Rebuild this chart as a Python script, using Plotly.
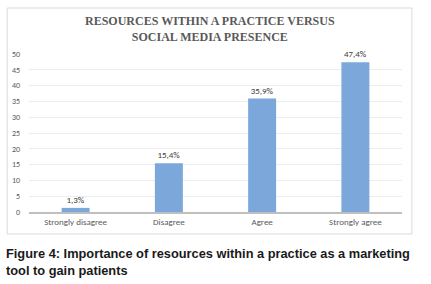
import plotly.graph_objects as go

categories = ["Strongly disagree", "Disagree", "Agree", "Strongly agree"]
values = [1.3, 15.4, 35.9, 47.4]
labels = ["1,3%", "15,4%", "35,9%", "47,4%"]
y_ticks = [0, 5, 10, 15, 20, 25, 30, 35, 40, 45, 50]

W, H = 431, 284
L, R, T, B = 26, 29, 54, 72
pw, ph = W - L - R, H - T - B

def px(x):
    return (x - L) / pw

def py(y):
    return (H - B - y) / ph

fig = go.Figure(go.Bar(
    x=categories, y=values, text=labels, textposition="outside",
    textfont=dict(family="Carlito, Calibri, Liberation Sans, Arial", size=9, color="#404040"),
    marker=dict(color="#7BA7DB", line=dict(width=0)),
    cliponaxis=False,
))

fig.update_layout(
    width=W, height=H,
    margin=dict(l=L, r=R, t=T, b=B),
    paper_bgcolor="white", plot_bgcolor="white",
    bargap=0.7, showlegend=False,
    font=dict(family="Carlito, Liberation Sans, Arial", size=9, color="#595959"),
    xaxis=dict(showgrid=False, showline=True, linecolor="#BFBFBF", linewidth=1.5,
               ticks="", tickfont=dict(size=9, color="#595959"), fixedrange=True),
    yaxis=dict(range=[0, 50], tickvals=y_ticks, showgrid=True, gridcolor="#EDEDED",
               gridwidth=1, zeroline=False, showline=False, ticks="",
               tickfont=dict(size=8, color="#595959"), ticklabelstandoff=8, fixedrange=True),
    shapes=[dict(type="rect", xref="paper", yref="paper",
                 x0=px(4), x1=px(412), y0=py(234), y1=py(8),
                 line=dict(color="#D9D9D9", width=1), fillcolor="rgba(0,0,0,0)")],
    annotations=[
        dict(text="<b>RESOURCES WITHIN A PRACTICE VERSUS<br>SOCIAL MEDIA PRESENCE</b>",
             xref="paper", yref="paper", x=px(208), y=py(29), xanchor="center", yanchor="middle",
             showarrow=False, font=dict(family="Liberation Serif, Times New Roman", size=12, color="#595959")),
        dict(text="<b>Figure 4: Importance of resources within a practice as a marketing<br>tool to gain patients</b>",
             xref="paper", yref="paper", x=px(1), y=py(262), xanchor="left", yanchor="middle",
             align="left", showarrow=False,
             font=dict(family="Liberation Sans, Arial", size=12.8, color="#1A1A1A")),
    ],
)

fig.write_html("out.html", config={"displayModeBar": False},
               post_script="document.body.style.margin='0';")
